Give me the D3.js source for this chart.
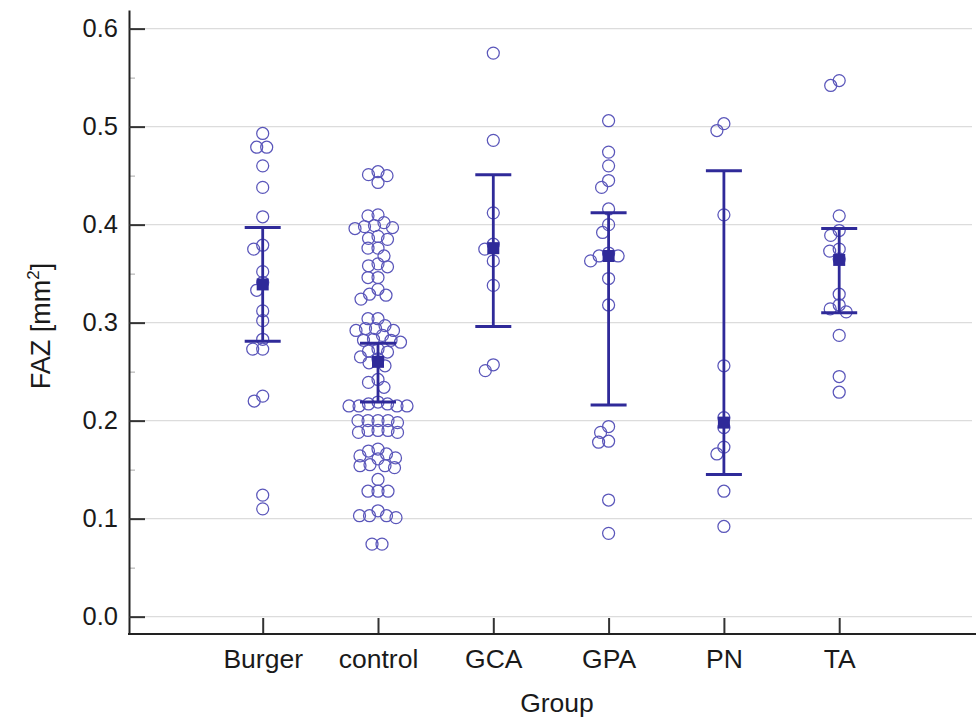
<!DOCTYPE html>
<html>
<head>
<meta charset="utf-8">
<script src="https://cdn.jsdelivr.net/npm/d3@7"></script>
<style>
  html, body { margin: 0; padding: 0; background: #ffffff; }
  svg { display: block; }
  text { font-family: "Liberation Sans", Arial, sans-serif; fill: #1a1a1a; }
</style>
</head>
<body>
<svg id="chart" width="976" height="720"></svg>
<script>
// ---------------- data ----------------
const groups = ["Burger", "control", "GCA", "GPA", "PN", "TA"];

const burgerValues = [0.493, 0.479, 0.479, 0.460, 0.438, 0.408, 0.379, 0.375, 0.352, 0.341,
  0.333, 0.312, 0.302, 0.283, 0.273, 0.273, 0.225, 0.220, 0.124, 0.110];

const controlValues = [0.454, 0.450, 0.451, 0.443,
  0.409, 0.410, 0.396, 0.397, 0.399, 0.398, 0.402,
  0.385, 0.376, 0.388, 0.386, 0.376,
  0.368, 0.360,
  0.357, 0.346, 0.358, 0.346,
  0.324, 0.334, 0.328, 0.329,
  0.304, 0.304, 0.294, 0.292, 0.294, 0.292, 0.297,
  0.282, 0.280, 0.282, 0.283, 0.287, 0.271, 0.270, 0.273,
  0.265, 0.259, 0.263, 0.256,
  0.242, 0.239, 0.234,
  0.215, 0.215, 0.215, 0.217, 0.217, 0.215, 0.219,
  0.198, 0.200, 0.200, 0.200, 0.200, 0.190, 0.188, 0.188, 0.190, 0.190,
  0.169, 0.171, 0.164, 0.161, 0.162, 0.166, 0.154, 0.152, 0.154, 0.155,
  0.140,
  0.128, 0.128, 0.128,
  0.101, 0.103, 0.108, 0.103, 0.103,
  0.074, 0.074];

const gcaValues = [0.575, 0.486, 0.412, 0.380, 0.375, 0.363, 0.338, 0.257, 0.251];

const gpaValues = [0.506, 0.474, 0.460, 0.445, 0.438, 0.416, 0.400, 0.392, 0.371, 0.368,
  0.368, 0.363, 0.345, 0.318, 0.194, 0.188, 0.179, 0.178, 0.119, 0.085];

const pnValues = [0.503, 0.496, 0.410, 0.256, 0.203, 0.193, 0.173, 0.166, 0.128, 0.092];

const taValues = [0.547, 0.542, 0.409, 0.394, 0.389, 0.375, 0.373, 0.365, 0.329, 0.318,
  0.314, 0.311, 0.287, 0.245, 0.229];

// median markers and 95% CI of the median
const medians = [0.339, 0.260, 0.376, 0.368, 0.198, 0.364];
const ciLow   = [0.281, 0.219, 0.296, 0.216, 0.145, 0.310];
const ciHigh  = [0.397, 0.279, 0.451, 0.412, 0.455, 0.396];

const yTicks = [0.0, 0.1, 0.2, 0.3, 0.4, 0.5, 0.6];
const yMinorTicks = [0.05, 0.15, 0.25, 0.35, 0.45, 0.55];
const yTitle = "FAZ [mm";
const yTitleSup = "2";
const yTitleEnd = "]";
const xTitle = "Group";

const groupValues = [burgerValues, controlValues, gcaValues, gpaValues, pnValues, taValues];

// ---------------- layout ----------------
const svg = d3.select("#chart");
const axisX0 = 129, axisX1 = 976, axisY = 634, axisTop = 10;
const tickFont = 25.5, labelFont = 26.5;

const y = d3.scaleLinear().domain([-0.0177, 0.619]).range([axisY, axisTop]);
const x = d3.scalePoint().domain(groups).range([262.7, 839.2]);

const dotColor = "#5a56ba";
const barColor = "#2f2a99";
const r = 6;

// gridlines
svg.append("g").selectAll("line").data(yTicks).join("line")
  .attr("x1", axisX0).attr("x2", 972)
  .attr("y1", d => y(d)).attr("y2", d => y(d))
  .attr("stroke", "#dcdcdc").attr("stroke-width", 1.2);

// minor ticks
const minorAxis = d3.axisLeft(y).tickValues(yMinorTicks).tickSizeInner(-6).tickSizeOuter(0).tickFormat("");
const gMinor = svg.append("g").attr("transform", `translate(${axisX0},0)`).call(minorAxis);
gMinor.select(".domain").remove();
gMinor.selectAll(".tick line").attr("stroke", "#b5b5b5").attr("stroke-width", 1.2);

// y axis
const yAxis = d3.axisLeft(y).tickValues(yTicks).tickSizeInner(-16).tickSizeOuter(0)
  .tickPadding(11).tickFormat(d3.format(".1f"));
const gy = svg.append("g").attr("transform", `translate(${axisX0},0)`).call(yAxis);
gy.select(".domain").attr("stroke", "#222").attr("stroke-width", 2);
gy.selectAll(".tick line").attr("stroke", "#333").attr("stroke-width", 2);
gy.selectAll(".tick text").attr("font-size", tickFont).attr("fill", "#1a1a1a")
  .attr("font-family", "'Liberation Sans', Arial, sans-serif");

// x axis
const xAxis = d3.axisBottom(x).tickSizeInner(-16).tickSizeOuter(0).tickPadding(15);
const gx = svg.append("g").attr("transform", `translate(0,${axisY})`).call(xAxis);
gx.select(".domain").remove();
gx.selectAll(".tick line").attr("stroke", "#333").attr("stroke-width", 2);
gx.selectAll(".tick text").attr("font-size", labelFont).attr("fill", "#1a1a1a")
  .attr("font-family", "'Liberation Sans', Arial, sans-serif");
svg.append("line").attr("x1", axisX0 - 1).attr("x2", axisX1)
  .attr("y1", axisY).attr("y2", axisY).attr("stroke", "#222").attr("stroke-width", 2.2);

// axis titles
svg.append("text").attr("x", 557).attr("y", 712).attr("text-anchor", "middle")
  .attr("font-size", labelFont).text(xTitle);
const yt = svg.append("text").attr("transform", `translate(50,326) rotate(-90)`)
  .attr("text-anchor", "middle").attr("font-size", 27);
yt.append("tspan").text(yTitle);
yt.append("tspan").attr("font-size", 17).attr("dy", -11).text(yTitleSup);
yt.append("tspan").attr("dy", 11).text(yTitleEnd);

// beeswarm layout computed from values
function swarm(values, cx) {
  const minD = 9.6;
  const sorted = values.slice().sort((a, b) => b - a);
  const placed = [];
  sorted.forEach(v => {
    const py = y(v);
    let best = null;
    for (let k = 0; k < 200 && best === null; k++) {
      const dx = (k % 2 === 0 ? 1 : -1) * Math.ceil(k / 2) * 0.5;
      const ok = placed.every(p => (p.x - (cx + dx)) ** 2 + (p.y - py) ** 2 >= minD * minD);
      if (ok) best = cx + dx;
    }
    placed.push({ x: best, y: py, v });
  });
  // centre isolated pairs of equal-height points around the group axis
  placed.forEach((p, i) => {
    const q = placed[i + 1];
    if (q && Math.abs(q.y - p.y) < 0.5 && p.x === cx &&
        placed.filter(o => Math.abs(o.y - p.y) < 12).length === 2) {
      const h = (q.x - p.x) / 2;
      p.x -= h * 0.8; q.x -= h * 0.8;
    }
  });
  return placed;
}

const dots = svg.append("g");
groups.forEach((g, i) => {
  const pts = swarm(groupValues[i], x(g));
  dots.selectAll(null).data(pts).join("circle")
    .attr("cx", d => d.x).attr("cy", d => d.y).attr("r", r)
    .attr("fill", "none").attr("stroke", dotColor).attr("stroke-width", 1.25);
});

// CI bars and median markers
const bars = svg.append("g");
groups.forEach((g, i) => {
  const cx = x(g);
  bars.append("line").attr("x1", cx).attr("x2", cx)
    .attr("y1", y(ciLow[i])).attr("y2", y(ciHigh[i]))
    .attr("stroke", barColor).attr("stroke-width", 2.8);
  [ciLow[i], ciHigh[i]].forEach(v => {
    bars.append("line").attr("x1", cx - 18).attr("x2", cx + 18)
      .attr("y1", y(v)).attr("y2", y(v))
      .attr("stroke", barColor).attr("stroke-width", 3);
  });
  bars.append("rect").attr("x", cx - 6).attr("y", y(medians[i]) - 6)
    .attr("width", 12).attr("height", 12).attr("fill", barColor);
});
</script>
</body>
</html>
